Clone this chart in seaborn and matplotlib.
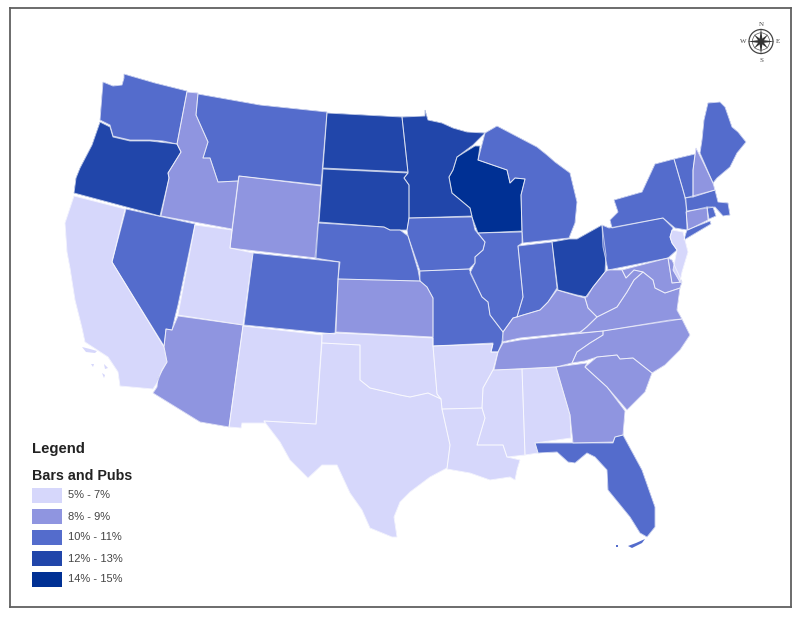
import matplotlib
matplotlib.use("Agg")
import matplotlib.pyplot as plt
from matplotlib.patches import Polygon, Rectangle, Circle
import numpy as np
import pandas as pd
import seaborn as sns

bin_labels = ["5% - 7%", "8% - 9%", "10% - 11%", "12% - 13%", "14% - 15%"]
bin_edges = [4, 7.5, 9.5, 11.5, 13.5, 16]
bin_colors = ["#D6D7FB", "#8F95E0", "#546CCC", "#2146AA", "#003094"]

# Estimated share per state, read from the class colours
rate = {
    "WA": 10.5, "OR": 12.5, "CA": 6, "NV": 10.5, "ID": 8.5, "MT": 10.5, "WY": 8.5, "UT": 6, "AZ": 8.5,
    "CO": 10.5, "NM": 6, "ND": 12.5, "SD": 12.5, "NE": 10.5, "KS": 8.5, "OK": 6, "TX": 6, "MN": 12.5,
    "IA": 10.5, "MO": 10.5, "AR": 6, "LA": 6, "WI": 14.5, "IL": 10.5, "MI": 10.5, "IN": 10.5, "OH": 12.5,
    "KY": 8.5, "TN": 8.5, "MS": 6, "AL": 6, "GA": 8.5, "FL": 10.5, "SC": 8.5, "NC": 8.5, "VA": 8.5,
    "WV": 8.5, "MD": 8.5, "DE": 8.5, "PA": 10.5, "NY": 10.5, "NJ": 6, "CT": 8.5, "RI": 10.5, "MA": 10.5,
    "VT": 10.5, "NH": 8.5, "ME": 10.5,
}

outline = {
    "WA": [(124,74),(155,83),(187,91),(177,144),(163,141),(150,140),(130,140),(113,136),(110,125),(100,120),(103,82),(113,86),(122,85),(124,78)],
    "OR": [(100,122),(110,127),(113,137),(130,141),(150,141),(177,144),(181,152),(168,173),(169,178),(160,216),(74,193),(76,178),(80,168),(92,145)],
    "ID": [(187,92),(198,93),(196,115),(208,142),(203,158),(210,158),(218,182),(238,181),(232,229),(161,216),(169,178),(168,173),(181,152),(177,144)],
    "MT": [(198,94),(260,105),(327,112),(321,185),(239,176),(238,181),(218,182),(210,158),(203,158),(208,142),(196,115)],
    "WY": [(239,176),(321,186),(316,258),(230,248)],
    "NV": [(126,209),(195,224),(178,305),(175,317),(172,330),(166,329),(164,346),(112,262)],
    "UT": [(195,225),(232,230),(230,248),(253,253),(243,325),(178,315)],
    "CA": [(74,196),(125,209),(112,262),(164,347),(167,362),(162,370),(157,383),(153,389),(120,386),(118,372),(108,357),(85,342),(82,328),(75,300),(70,268),(67,252),(65,223)],
    "AZ": [(178,316),(243,325),(229,427),(200,422),(153,393),(157,387),(158,378),(167,362),(164,347),(166,329),(172,330)],
    "NM": [(243,326),(322,335),(316,424),(264,421),(265,423),(242,423),(241,428),(229,427)],
    "CO": [(253,253),(339,262),(338,280),(335,334),(244,325)],
    "KS": [(338,279),(420,281),(427,287),(433,298),(433,337),(336,332)],
    "NE": [(318,223),(384,227),(390,230),(400,230),(408,236),(418,270),(420,281),(338,279),(340,262),(315,258)],
    "SD": [(323,169),(408,173),(404,178),(409,185),(409,218),(407,230),(400,230),(390,230),(384,227),(319,222)],
    "ND": [(327,113),(402,117),(408,172),(323,168)],
    "MN": [(402,117),(425,116),(425,110),(428,120),(442,123),(453,128),(467,132),(485,133),(473,145),(457,157),(453,170),(449,177),(452,193),(470,208),(472,216),(409,218),(409,185),(404,178),(408,173)],
    "WI": [(475,146),(480,146),(478,160),(507,170),(510,183),(515,178),(525,179),(521,195),(522,231),(478,233),(472,217),(470,208),(452,193),(449,177),(453,170),(457,157)],
    "MI": [(485,133),(497,126),(537,147),(547,155),(555,162),(570,173),(577,202),(575,223),(569,238),(523,243),(522,231),(521,195),(525,179),(515,178),(510,183),(507,170),(478,160)],
    "IA": [(409,218),(472,217),(475,230),(485,242),(483,250),(475,257),(475,263),(469,269),(420,271),(408,236),(407,230)],
    "IL": [(478,233),(522,232),(522,243),(518,246),(523,297),(517,317),(513,318),(503,332),(490,315),(488,302),(482,297),(470,273),(475,263),(475,257),(483,250),(485,242)],
    "IN": [(518,246),(552,242),(557,288),(548,302),(540,310),(523,315),(517,317),(523,297)],
    "OH": [(552,242),(569,239),(577,239),(602,225),(606,255),(605,272),(593,287),(587,297),(577,295),(558,290)],
    "KY": [(557,290),(577,296),(585,298),(588,308),(597,317),(587,327),(580,332),(520,338),(502,342),(503,332),(513,318),(523,315),(540,310),(548,302)],
    "MO": [(420,271),(469,269),(482,297),(488,302),(490,315),(503,332),(503,340),(498,352),(491,352),(493,343),(433,346),(433,320),(433,298),(427,287),(420,281)],
    "AR": [(433,346),(493,344),(491,352),(498,352),(493,370),(483,388),(482,408),(442,409),(441,399),(437,394)],
    "OK": [(322,334),(336,333),(433,338),(433,346),(437,394),(441,399),(428,393),(410,397),(400,395),(370,388),(360,380),(360,345),(322,343)],
    "TX": [(322,343),(360,345),(360,380),(370,388),(400,395),(410,397),(428,393),(441,399),(442,409),(450,445),(447,468),(430,477),(410,492),(400,502),(394,517),(397,537),(392,537),(370,528),(362,510),(350,493),(337,465),(322,465),(308,478),(290,460),(280,442),(264,421),(316,424)],
    "LA": [(442,409),(482,408),(485,418),(477,445),(503,445),(507,457),(520,460),(517,470),(515,480),(510,477),(490,480),(470,473),(447,469),(450,445)],
    "MS": [(493,370),(522,369),(525,455),(507,457),(503,445),(477,445),(485,418),(482,408),(483,388)],
    "AL": [(522,369),(556,367),(570,415),(571,438),(535,443),(538,453),(525,455)],
    "GA": [(556,367),(587,363),(585,367),(607,387),(625,411),(623,435),(615,437),(613,442),(573,443),(570,415)],
    "FL": [(535,443),(573,443),(613,443),(615,437),(623,435),(642,470),(655,507),(655,527),(647,537),(640,533),(630,517),(608,490),(607,470),(595,457),(587,453),(575,463),(568,462),(557,452),(538,453)],
    "SC": [(585,367),(597,357),(617,355),(620,359),(633,358),(652,373),(645,392),(627,410),(607,387)],
    "NC": [(603,331),(670,320),(682,319),(690,335),(680,350),(665,365),(652,373),(633,358),(620,359),(617,355),(597,357),(585,361),(572,363),(577,352),(590,343),(603,335)],
    "TN": [(503,343),(520,340),(603,331),(603,335),(590,343),(577,352),(572,363),(556,367),(494,370),(498,352)],
    "VA": [(580,333),(597,317),(617,307),(627,292),(634,280),(643,272),(653,280),(655,288),(665,293),(680,288),(677,310),(682,319),(603,331)],
    "WV": [(585,298),(593,287),(605,272),(608,270),(622,270),(626,278),(634,270),(643,272),(634,280),(627,292),(617,307),(597,317),(588,308)],
    "MD": [(622,270),(668,258),(672,283),(682,282),(680,288),(665,293),(655,288),(653,280),(643,272),(634,270),(626,278)],
    "DE": [(668,258),(672,260),(682,282),(672,283)],
    "PA": [(602,225),(609,228),(663,218),(673,228),(670,237),(672,243),(677,250),(668,258),(608,270),(603,247)],
    "NY": [(610,220),(618,212),(614,200),(642,192),(655,164),(674,159),(683,190),(686,200),(687,230),(710,221),(711,224),(684,240),(686,233),(687,230),(675,228),(663,218),(612,228)],
    "NJ": [(672,230),(683,232),(688,252),(682,272),(680,282),(673,270),(677,250),(672,243),(670,237)],
    "CT": [(686,212),(707,207),(708,220),(688,230)],
    "RI": [(707,207),(713,207),(716,216),(709,219)],
    "MA": [(685,198),(715,190),(718,202),(728,203),(730,215),(723,216),(715,207),(687,211)],
    "VT": [(674,159),(695,154),(693,170),(693,197),(685,198),(683,190)],
    "NH": [(696,148),(702,160),(713,183),(715,190),(693,197),(693,170)],
    "ME": [(708,103),(720,102),(725,107),(732,127),(738,132),(746,142),(737,153),(730,167),(717,178),(713,183),(700,153),(702,140),(704,120)],
}
# Small islands belonging to a state
islands = {
    "CA": [[(82,347),(90,349),(97,351),(95,353),(86,352)], [(91,364),(94,364),(93,367)], [(104,364),(108,368),(105,369)], [(102,373),(105,375),(104,378)]],
    "FL": [[(628,546),(636,543),(645,539),(642,543),(632,548)], [(616,545),(618,545),(618,547),(616,547)]],
}

sns.set_theme(style="white", rc={"font.family": ["Liberation Sans", "DejaVu Sans"]})
palette = sns.color_palette(bin_colors)

fig = plt.figure(figsize=(8.0, 6.17), dpi=100, facecolor="white")
x0, x1, y0, y1 = 10, 791, 8, 607
ax = fig.add_axes([x0 / 800, 1 - y1 / 617, (x1 - x0) / 800, (y1 - y0) / 617])
ax.set_xlim(x0, x1)
ax.set_ylim(y1, y0)
ax.set_xticks([])
ax.set_yticks([])
for s in ax.spines.values():
    s.set_color("#606060")
    s.set_linewidth(1.3)

classes = pd.cut(pd.Series(rate), bins=bin_edges, labels=False)
for state, pts in outline.items():
    col = palette[int(classes[state])]
    ax.add_patch(Polygon(pts, closed=True, facecolor=col, edgecolor=col, lw=0.3, zorder=2))
    ax.add_patch(Polygon(pts, closed=True, facecolor="none", edgecolor=(1, 1, 1, 0.6), lw=0.7, joinstyle="round", zorder=2.5))
    for isl in islands.get(state, []):
        ax.add_patch(Polygon(isl, closed=True, facecolor=col, edgecolor="none", zorder=2))

# Legend
ax.text(32, 448.5, "Legend", fontsize=10.7, fontweight="bold", color="#222222", va="center", ha="left")
ax.text(32, 475.5, "Bars and Pubs", fontsize=10.3, fontweight="bold", color="#222222", va="center", ha="left")
swatch_tops = [488, 509, 530, 551, 572]
for top, lab, col in zip(swatch_tops, bin_labels, palette):
    ax.add_patch(Rectangle((32, top), 30, 15, facecolor=col, edgecolor="none", zorder=3))
    ax.text(68, top + 7.5, lab, fontsize=8, color="#444444", va="center", ha="left")

# Compass rose
cx, cy, r = 761, 41.5, 12
ax.add_patch(Circle((cx, cy), r, fill=False, edgecolor="#444444", lw=0.9, zorder=3))
ax.add_patch(Circle((cx, cy), r * 0.72, fill=False, edgecolor="#555555", lw=0.5, zorder=3))
for k in range(8):
    a = np.pi / 4 * k
    L = r * (1.12 if k % 2 == 0 else 0.85)
    w = r * 0.14
    tip = (cx + L * np.cos(a), cy + L * np.sin(a))
    s1 = (cx + w * np.cos(a + np.pi / 2), cy + w * np.sin(a + np.pi / 2))
    s2 = (cx - w * np.cos(a + np.pi / 2), cy - w * np.sin(a + np.pi / 2))
    ax.add_patch(Polygon([tip, s1, s2], closed=True, facecolor="#333333", edgecolor="none", zorder=4))
for t, tx, ty in [("N", 761, 24), ("S", 761, 60), ("W", 743.5, 41.5), ("E", 778, 41.5)]:
    ax.text(tx, ty, t, fontsize=5, color="#444444", family="Liberation Serif", ha="center", va="center")

fig.savefig("out.png", dpi=100)
